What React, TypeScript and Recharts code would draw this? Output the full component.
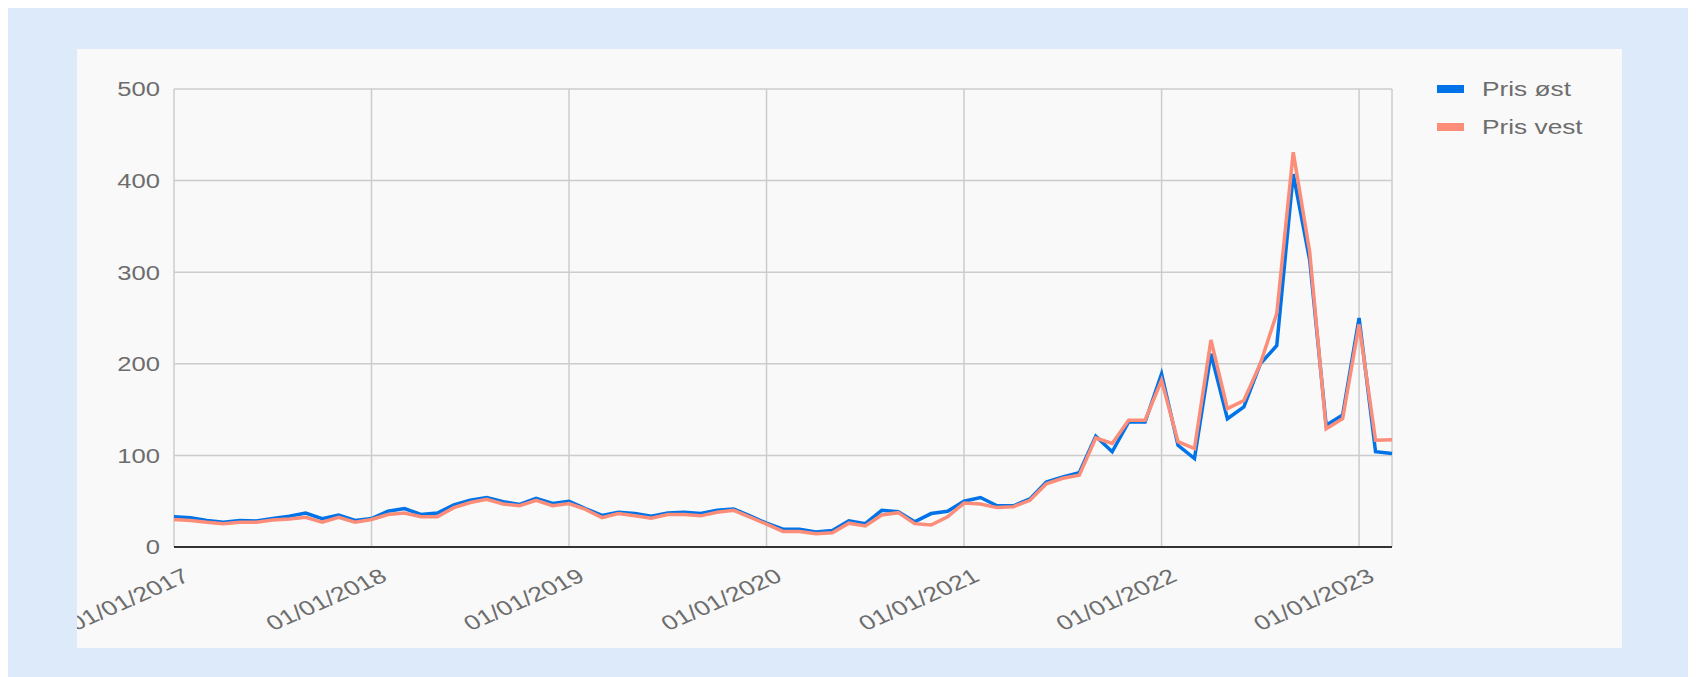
import { LineChart, Line, XAxis, YAxis, CartesianGrid, Legend } from 'recharts'

const months = [
  '2017-01', '2017-02', '2017-03', '2017-04', '2017-05', '2017-06', '2017-07', '2017-08', '2017-09', '2017-10', '2017-11', '2017-12',
  '2018-01', '2018-02', '2018-03', '2018-04', '2018-05', '2018-06', '2018-07', '2018-08', '2018-09', '2018-10', '2018-11', '2018-12',
  '2019-01', '2019-02', '2019-03', '2019-04', '2019-05', '2019-06', '2019-07', '2019-08', '2019-09', '2019-10', '2019-11', '2019-12',
  '2020-01', '2020-02', '2020-03', '2020-04', '2020-05', '2020-06', '2020-07', '2020-08', '2020-09', '2020-10', '2020-11', '2020-12',
  '2021-01', '2021-02', '2021-03', '2021-04', '2021-05', '2021-06', '2021-07', '2021-08', '2021-09', '2021-10', '2021-11', '2021-12',
  '2022-01', '2022-02', '2022-03', '2022-04', '2022-05', '2022-06', '2022-07', '2022-08', '2022-09', '2022-10', '2022-11', '2022-12',
  '2023-01', '2023-02', '2023-03',
]

const prisOst = [
  33, 32, 29, 27, 29, 28.5, 31, 33.5, 37, 31, 35, 29,
  31, 39, 42, 35.5, 37, 46, 51, 54, 49.5, 46.5, 53, 47.5,
  50, 42, 34.5, 38, 36.5, 33.5, 37, 38, 36.5, 40, 41.5, 34,
  26, 19.5, 19.5, 16.5, 18, 28.5, 25.5, 40, 38.5, 27.5, 36.5, 39,
  50, 54, 45, 45, 52.5, 71, 76.5, 81, 121, 104, 136.5, 136.5,
  189, 111, 96.5, 211, 140, 153, 200, 220, 407, 313, 133, 144,
  250, 104, 102,
]

const prisVest = [
  30, 29, 27, 25.5, 27, 27, 29.5, 30.5, 32.5, 27, 32.5, 27,
  30, 35.5, 37, 33, 33, 43, 48.5, 52, 47, 45, 51, 45,
  47.5, 41, 32, 36.5, 34, 31.5, 35.5, 35.5, 34, 38, 40, 32.5,
  25, 17, 17, 14.5, 15.5, 26, 23, 35, 37.5, 25.5, 24, 33,
  48, 47, 43, 44, 51, 69, 75, 78.5, 119, 113, 138.5, 138.5,
  182, 115, 107.5, 226, 151, 160, 200, 255, 431, 322, 129, 140,
  243, 116.5, 117,
]

const xTicks = [0, 12, 24, 36, 48, 60, 72]
const xTickLabels = ['01/01/2017', '01/01/2018', '01/01/2019', '01/01/2020', '01/01/2021', '01/01/2022', '01/01/2023']
const yTicks = [0, 100, 200, 300, 400, 500]

const series = [
  { key: 'ost', name: 'Pris øst', color: '#0073e8' },
  { key: 'vest', name: 'Pris vest', color: '#fb8d79' },
]

const data = months.map((m, i) => ({ idx: i, month: m, ost: prisOst[i], vest: prisVest[i] }))

const font = '"Liberation Sans", Arial, sans-serif'
const textColor = '#6d6d6d'

function XTick({ x, y, payload }: any) {
  const label = xTickLabels[xTicks.indexOf(payload.value)]
  return (
    <g transform={`translate(${x + 17},${y + 33}) scale(1.3,1) rotate(-30)`}>
      <text textAnchor="end" fill={textColor} fontSize={20.5} fontFamily={font}>
        {label}
      </text>
    </g>
  )
}

function YTick({ x, y, payload }: any) {
  return (
    <g transform={`translate(${x - 14},${y}) scale(1.25,1)`}>
      <text textAnchor="end" dy="0.36em" fill={textColor} fontSize={20.5} fontFamily={font}>
        {payload.value}
      </text>
    </g>
  )
}

function LegendContent() {
  return (
    <div style={{ position: 'relative', width: 180, height: 80 }}>
      {series.map((s, i) => (
        <div
          key={s.key}
          style={{ position: 'absolute', left: 0, top: i * 37.5, height: 24, display: 'flex', alignItems: 'center' }}
        >
          <span style={{ display: 'inline-block', width: 27, height: 8, background: s.color }} />
          <span
            style={{
              display: 'inline-block',
              marginLeft: 18,
              fontSize: 21,
              fontFamily: font,
              color: textColor,
              whiteSpace: 'nowrap',
              transform: 'scaleX(1.25)',
              transformOrigin: 'left center',
            }}
          >
            {s.name}
          </span>
        </div>
      ))}
    </div>
  )
}

export default function App() {
  return (
    <div style={{ width: 1680, height: 669, background: '#ddeaf9', position: 'relative' }}>
      <div style={{ position: 'absolute', left: 69, top: 41, width: 1545, height: 599, background: '#f9f9f9' }}>
        <LineChart width={1545} height={599} data={data} margin={{ top: 40, right: 50, bottom: 0, left: 0 }}>
          <CartesianGrid stroke="#cccccc" strokeWidth={1.5} />
          <XAxis
            dataKey="idx"
            type="number"
            domain={[0, 74]}
            ticks={xTicks}
            interval={0}
            tick={<XTick />}
            tickLine={false}
            tickSize={0}
            tickMargin={0}
            height={101}
            axisLine={{ stroke: '#333333', strokeWidth: 2 }}
          />
          <YAxis
            type="number"
            domain={[0, 500]}
            ticks={yTicks}
            interval={0}
            tick={<YTick />}
            tickLine={false}
            tickSize={0}
            tickMargin={0}
            axisLine={false}
            width={97}
          />
          <Legend
            layout="vertical"
            align="right"
            verticalAlign="top"
            content={<LegendContent />}
            wrapperStyle={{ left: 1360, top: 28, right: 'auto', width: 180, height: 80 }}
          />
          {series.map((s) => (
            <Line
              key={s.key}
              type="linear"
              dataKey={s.key}
              name={s.name}
              stroke={s.color}
              strokeWidth={3.5}
              dot={false}
              activeDot={false}
              isAnimationActive={false}
            />
          ))}
        </LineChart>
      </div>
    </div>
  )
}
